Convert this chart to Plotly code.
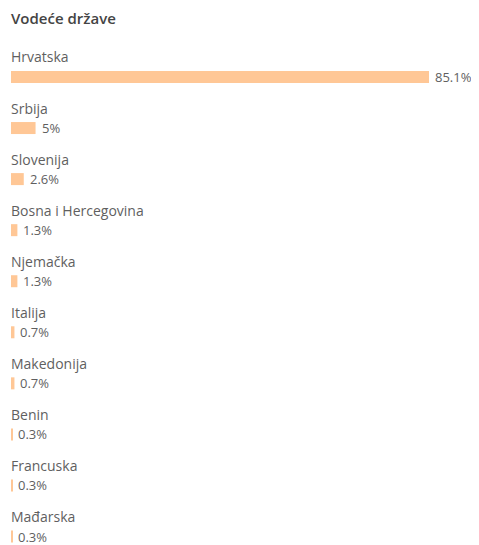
import plotly.graph_objects as go

countries = ["Hrvatska", "Srbija", "Slovenija", "Bosna i Hercegovina", "Njemačka",
             "Italija", "Makedonija", "Benin", "Francuska", "Mađarska"]
shares = [85.1, 5, 2.6, 1.3, 1.3, 0.7, 0.7, 0.3, 0.3, 0.3]

rows = list(range(len(countries)))
bar_color = "#ffc796"
label_font = dict(family="Open Sans, Segoe UI, sans-serif", size=14, color="#5f5f5f")
value_font = dict(family="Open Sans, Segoe UI, sans-serif", size=13, color="#5f5f5f")

# page has an 8px body margin, so the figure is a bit smaller than the window
W, H = 471, 537

fig = go.Figure(
    go.Bar(
        x=shares,
        y=rows,
        orientation="h",
        marker=dict(color=bar_color, line=dict(width=0)),
        width=0.235,
        hoverinfo="skip",
    )
)

annotations = []
for i, (name, val) in enumerate(zip(countries, shares)):
    # country name above its bar
    annotations.append(dict(
        x=0, y=i, xref="x", yref="y", text=name, showarrow=False,
        xanchor="left", yanchor="middle", xshift=-2, yshift=20, font=label_font,
    ))
    # value label right of the bar
    annotations.append(dict(
        x=val, y=i, xref="x", yref="y", text=f"{val:g}%", showarrow=False,
        xanchor="left", yanchor="middle", xshift=4, font=value_font,
    ))

annotations.append(dict(
    x=0, y=1 - 10 / H, xref="paper", yref="paper", text="Vodeće države",
    showarrow=False, xanchor="left", yanchor="middle", xshift=-2,
    font=dict(family="Open Sans, Segoe UI, sans-serif", size=15, color="#444444", weight=600),
))

fig.update_layout(
    width=W,
    height=H,
    margin=dict(l=3, r=0, t=0, b=0),
    paper_bgcolor="white",
    plot_bgcolor="white",
    showlegend=False,
    xaxis=dict(range=[0, 95.28], visible=False, fixedrange=True),
    yaxis=dict(range=[9.166, -1.351], visible=False, fixedrange=True),
    annotations=annotations,
)

fig.write_html("out.html", config={"displayModeBar": False})
